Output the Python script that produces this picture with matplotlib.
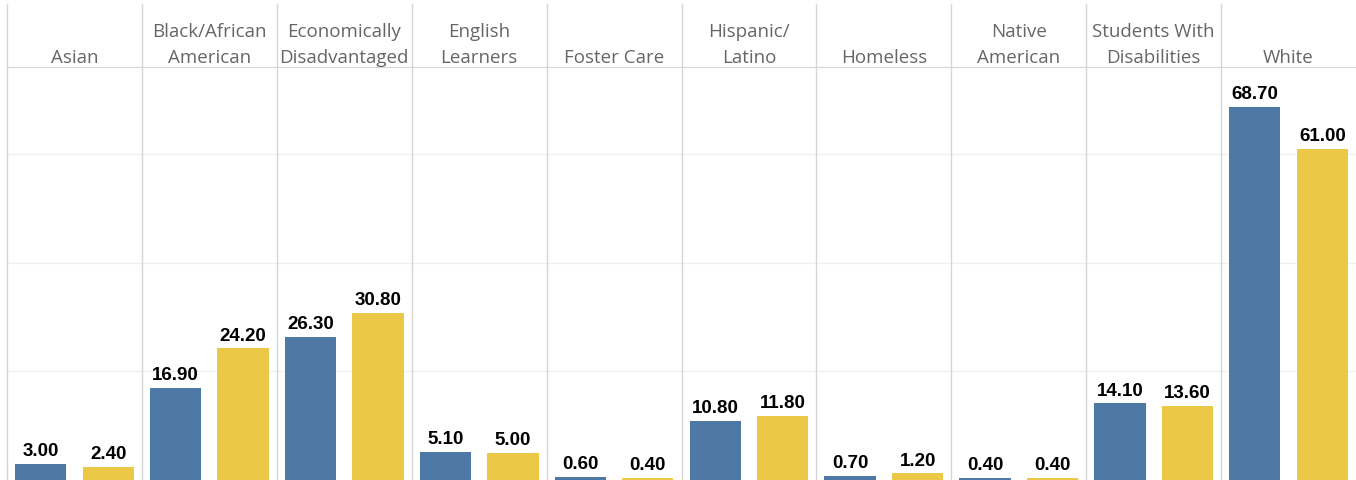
import matplotlib.pyplot as plt
import numpy as np

groups = ['Asian', 'Black/African\nAmerican', 'Economically\nDisadvantaged', 'English\nLearners',
          'Foster Care', 'Hispanic/\nLatino', 'Homeless', 'Native\nAmerican',
          'Students With\nDisabilities', 'White']
blue_vals = [3.0, 16.9, 26.3, 5.1, 0.6, 10.8, 0.7, 0.4, 14.1, 68.7]
yellow_vals = [2.4, 24.2, 30.8, 5.0, 0.4, 11.8, 1.2, 0.4, 13.6, 61.0]

blue = '#4e79a7'
yellow = '#ebc846'
sep = '#d6d6d6'

W, H = 1356, 481
fig = plt.figure(figsize=(W / 100, H / 100), dpi=100)
left = 7 / W
top = (H - 68) / H
n = len(groups)
pw = (1 - left) / n
header_frac = (68 - 5) / (H - 68)

for i in range(n):
    ax = fig.add_axes([left + i * pw, 0, pw, top])
    ax.bar(0, blue_vals[i], 0.76, color=blue)
    ax.bar(1, yellow_vals[i], 0.76, color=yellow)
    ax.set_xlim(-0.5, 1.5)
    ax.set_ylim(0, 76)
    for yv in [20, 40, 60]:
        ax.axhline(yv, color='#f0f0f0', lw=1, zorder=0)
    for x, v in [(0, blue_vals[i]), (1, yellow_vals[i])]:
        ax.annotate('%.2f' % v, (x, v), xytext=(0, 3.5), textcoords='offset points',
                    ha='center', va='bottom', fontsize=13.5, fontweight='bold',
                    family='Liberation Sans', color='black')
    ax.set_xticks([])
    ax.set_yticks([])
    for s in ['right', 'bottom', 'left']:
        ax.spines[s].set_visible(False)
    ax.spines['top'].set_color(sep)
    ax.axvline(-0.5, ymin=0, ymax=1 + header_frac, color=sep, lw=1, clip_on=False)
    ax.text(0.5, 1 + 1.5 / (H - 68), groups[i], transform=ax.transAxes, ha='center', va='bottom',
            fontsize=13.5, family='Open Sans', color='#666666', linespacing=1.55)

fig.savefig('out.png', dpi=100)
